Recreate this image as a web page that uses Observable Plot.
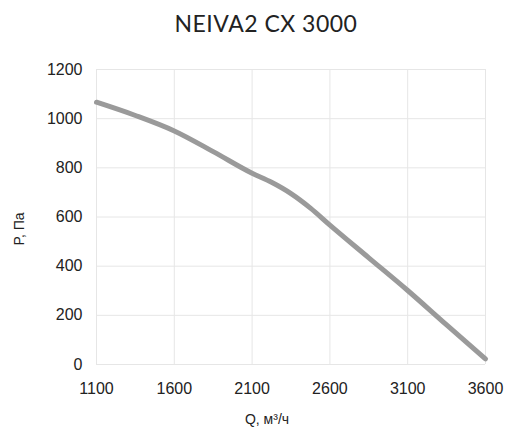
<!DOCTYPE html>
<html>
<head>
<meta charset="utf-8">
<script src="https://cdn.jsdelivr.net/npm/d3@7"></script>
<script src="https://cdn.jsdelivr.net/npm/@observablehq/plot@0.6"></script>
<style>
  body { margin: 0; background: #fff; }
  #title { height: 50px; width: 508px; box-sizing: border-box; padding-left: 24px; text-align: center;
           font-family: Lato, "Noto Sans", sans-serif; font-size: 23px; color: #222; line-height: 46px; letter-spacing: 0.5px; }
  #wrap { position: relative; width: 508px; height: 383px; }
  #chart svg text { font-family: "Liberation Sans", Arial, sans-serif; font-size: 16px; fill: #222; }
  #ylab { position: absolute; left: 19px; top: 179px; transform: translate(-50%, -50%) rotate(-90deg);
          font-family: "Liberation Sans", Arial, sans-serif; font-size: 14px; color: #222; white-space: nowrap; }
  #xlab { position: absolute; left: 267px; top: 369px; transform: translate(-50%, -50%);
          font-family: "Liberation Sans", Arial, sans-serif; font-size: 14px; color: #222; white-space: nowrap; }
</style>
</head>
<body>
<div id="title">NEIVA2 CX 3000</div>
<div id="wrap"><div id="chart"></div><div id="ylab">P, Па</div><div id="xlab">Q, м³/ч</div></div>
<script>
const flow = [1100, 1350, 1600, 1850, 2100, 2225, 2350, 2475, 2600, 2850, 3100, 3350, 3600];
const pressure = [1067, 1013, 950, 866, 778, 741, 695, 636, 567, 434, 301, 161, 23];
const xTicks = [1100, 1600, 2100, 2600, 3100, 3600];
const yTicks = [0, 200, 400, 600, 800, 1000, 1200];

const data = flow.map((q, i) => ({q, p: pressure[i]}));

const chart = Plot.plot({
  width: 508,
  height: 383,
  marginTop: 19,
  marginBottom: 69,
  marginLeft: 96,
  marginRight: 23,
  style: {fontFamily: "'Liberation Sans', Arial, sans-serif", fontSize: "16px", color: "#222", background: "#fff"},
  x: {domain: [1100, 3600], ticks: xTicks},
  y: {domain: [0, 1200], ticks: yTicks},
  marks: [
    Plot.gridX(xTicks, {stroke: "#e6e6e6", strokeOpacity: 1, strokeWidth: 1}),
    Plot.gridY(yTicks, {stroke: "#e6e6e6", strokeOpacity: 1, strokeWidth: 1}),
    Plot.axisX(xTicks, {tickSize: 0, tickPadding: 18, label: null, tickFormat: d3.format("d"), fontSize: 16, fill: "#222"}),
    Plot.axisY(yTicks, {tickSize: 0, tickPadding: 14, label: null, tickFormat: d3.format("d"), fontSize: 16, fill: "#222"}),
    Plot.line(data, {x: "q", y: "p", stroke: "#9a9a9a", strokeWidth: 5, curve: "monotone-x"})
  ]
});
document.getElementById("chart").appendChild(chart);
</script>
</body>
</html>
